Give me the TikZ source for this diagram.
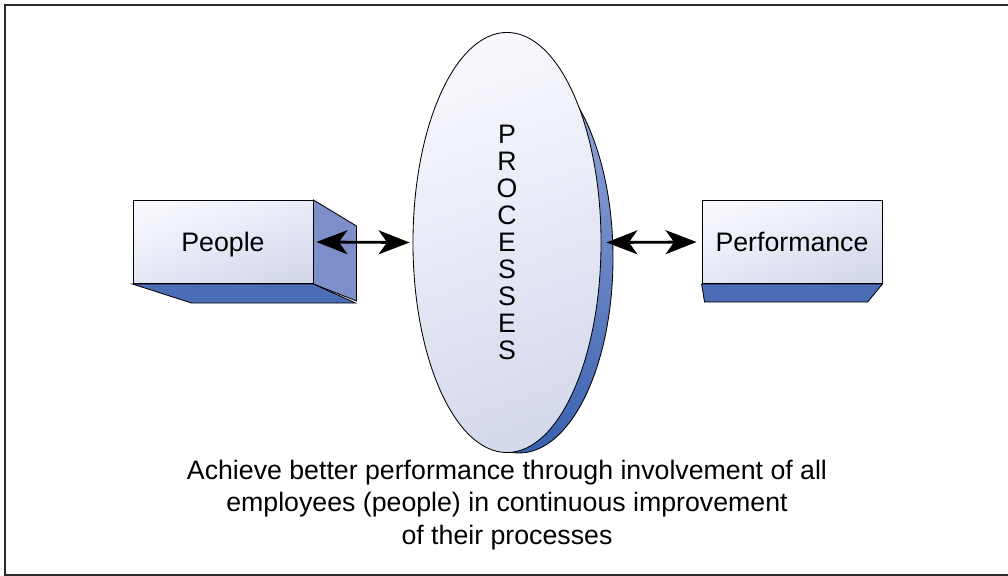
\documentclass[tikz,border=0pt]{standalone}
\usepackage{fontspec}
\setmainfont{Liberation Sans}
\usetikzlibrary{shapes.geometric,arrows.meta}
\definecolor{faceA}{HTML}{F7F8FD}
\definecolor{faceB}{HTML}{D5D9EC}
\definecolor{sideblue}{HTML}{7E8EC8}
\definecolor{baseblue}{HTML}{4A6DB5}
\definecolor{rimA}{HTML}{9AA8DA}
\definecolor{rimB}{HTML}{3A62B0}
\definecolor{framegray}{HTML}{2A2A2A}
\tikzset{
	front/.style={draw,line width=0.6pt,top color=faceA,bottom color=faceB,shading angle=20,
		minimum width=4.5cm,minimum height=2.08cm,inner sep=0pt,text depth=0pt,
		font=\fontsize{19}{23}\selectfont},
	sideface/.style={draw,line width=0.6pt,fill=sideblue},
	baseface/.style={draw,line width=0.6pt,fill=baseblue},
	twoway/.style={{Stealth[length=22pt,width=17pt,inset=6pt]}-{Stealth[length=22pt,width=17pt,inset=6pt]},line width=2pt}
}
\begin{document}
\begin{tikzpicture}[x=0.025cm,y=-0.025cm]
	\useasboundingbox (0,0) rectangle (1008,576);
	% frame
	\draw[framegray,line width=1.5pt] (1010,5) -- (5,5) -- (5,575) -- (1010,575);
	% People
	\node[front] (people) at (223,242) {People};
	\draw[sideface] (people.north east) -- ++(43,26) -- ++(0,75) -- (people.south east) -- cycle;
	\draw[baseface] (people.south west) -- ++(59,19) -- ++(164,0) -- (people.south east) -- cycle;
	% Performance
	\node[front] (perf) at (792,242) {Performance};
	\draw[baseface] (perf.south west) -- ++(3,18) -- ++(163,0) -- (perf.south east) -- cycle;
	% Processes
	\draw[line width=0.6pt,top color=rimA,bottom color=rimB] (519,258) ellipse (94 and 195);
	\node[ellipse,draw,line width=0.6pt,top color=faceA,bottom color=faceB,shading angle=20,
		minimum width=4.7cm,minimum height=10.5cm,inner sep=0pt,align=center,
		font=\fontsize{19}{19.2}\selectfont] (proc) at (507,242.5)
		{P\\R\\O\\C\\E\\S\\S\\E\\S};
	% Arrows
	\draw[twoway] ([xshift=0.075cm]people.east) -- ([xshift=-0.075cm]proc.west);
	\draw[twoway] ([xshift=0.125cm]proc.east) -- ([xshift=-0.125cm]perf.west);
	% Caption
	\node[align=center,font=\fontsize{19}{23.4}\selectfont] (caption) at (507,505)
		{Achieve better performance through involvement of all\\
		employees (people) in continuous improvement\\
		of their processes};
\end{tikzpicture}
\end{document}
